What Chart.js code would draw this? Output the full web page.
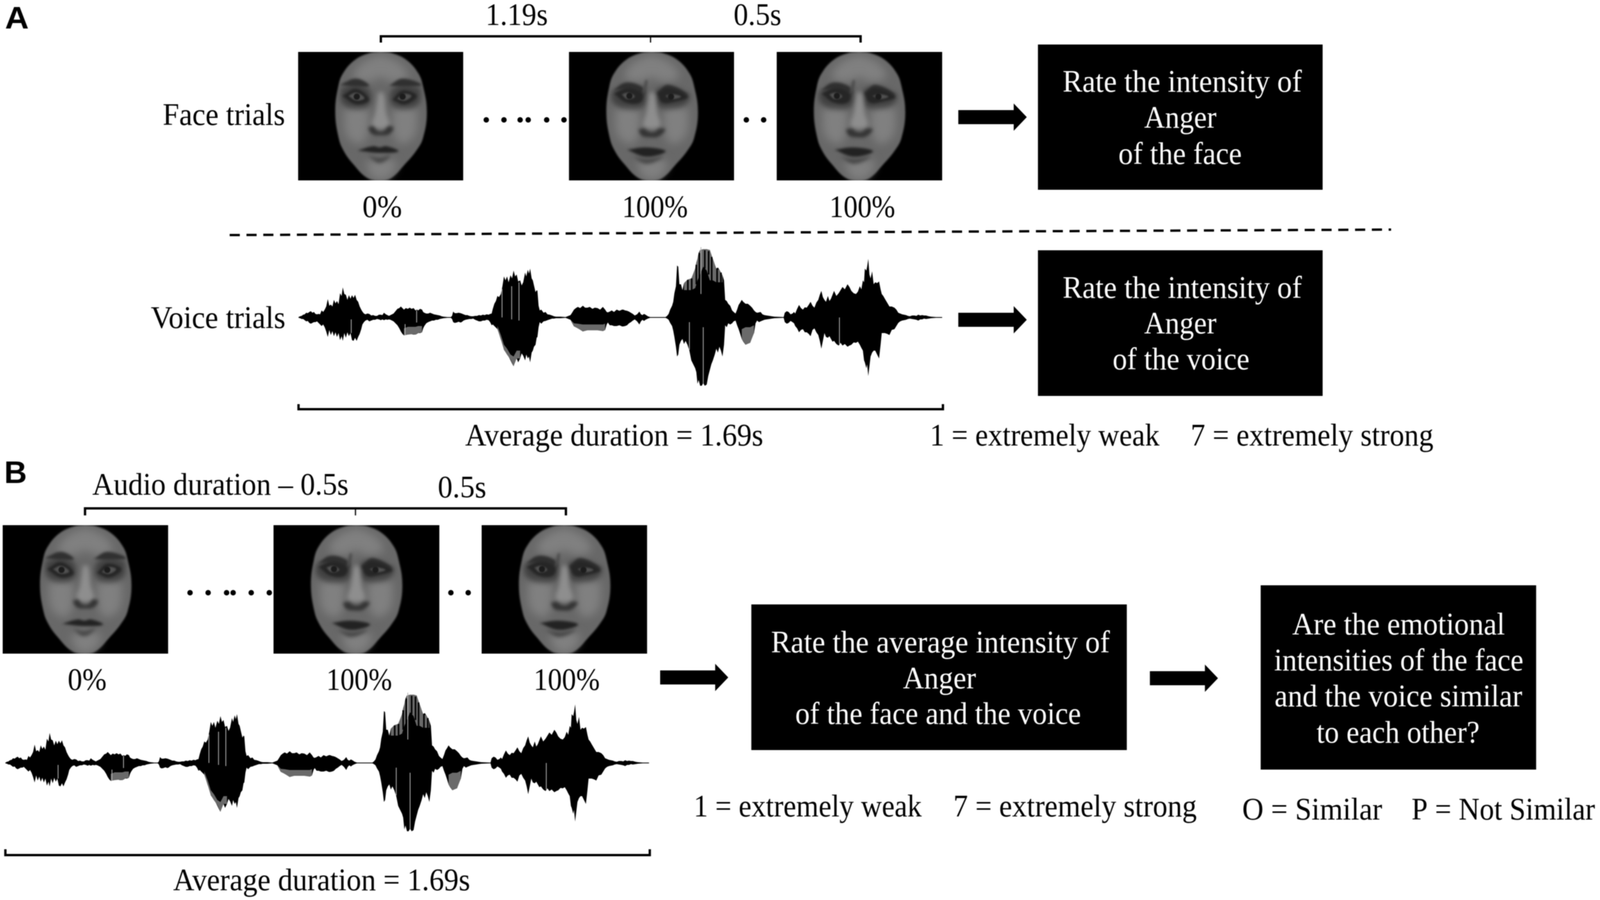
<!DOCTYPE html>
<html>
<head>
<meta charset="utf-8">
<title>Face and voice trials</title>
<script src="https://cdn.jsdelivr.net/npm/chart.js@4/dist/chart.umd.js"></script>
<style>
    html, body { margin: 0; padding: 0; background: #fff; overflow: hidden; }
    #stage { position: relative; filter: blur(1px); overflow: hidden; }
    canvas { display: block; }
    .face { position: absolute; }
</style>
</head>
<body>
<div id="stage"><canvas id="trial-chart"></canvas></div>
<script>
// Voice envelope, px from the start of the recording, amplitude above / below the baseline
const waveT = [0,4,8,12,16,20,24,28,32,36,40,44,48,52,56,60,64,68,72,76,80,84,88,92,96,100,104,108,112,115,119,123,127,131,135,139,143,147,151,155,159,163,166,170,174,179,184,189,194,199,204,209,214,218,222,227,231,235,239,243,247,252,257,262,266,270,274,279,284,289,294,299,304,308,311,316,321,324,327,332,337,342,347,352,357,362,367,372,377,387,396,399,402,406,411,416,421,
    424,429,434,439,444,449,454,459,464,469,474,479,484,489,494,498,502,505,509,513,517,521,526,530,534,538,542,546,551,555,559,563,567,571,576,580,584,589,592,596,599,602,606,609,612,616,619,621,624,627,631,637,642,647,653,659,664,669,681,694,707,711,716,721,726,732,739,745,751,757,764,770,777,784,791,797,801,804,809,814,820,827,834,841,
    844,849,854,859,864,869,874,880,886,890,894,898,902,908,914,934,954,958,962,966,971,974,977,981,984,987,990,994,998,1002,1006,1011,1016,1021,1026,1031,1034,1037,1040,1044,1048,1052,1056,1061,1065,1069,1073,1077,1082,1086,1090,1094,1098,1102,1106,1109,1113,1117,1122,1127,1131,1136,1140,1144,1148,1152,1156,1162,1168,1174,1179,1184,1188,1192,1197,1201,1206,1211,1217,1224,1230,1237,1261,
    1264,1269,1274,1279,1284,1288,1291,1296,1301,1306,1311,1316,1321,1326,1331,1336,1341,1346,1351,1355,1359,1363,1367,1371,1376,1380,1384,1388,1392,1398,1404,1409,1414,1420,1427,1432,1437,1443,1449,1454,1459,1463,1467,1470,1472,1476,1478,1481,1484,1487,1491,1495,1499,1504,1509,1513,1516,1520,1524,1530,1536,1542,1549,1554,1559,1564,1569,1574,1579,1584,1589,1595,1601,1606,1611,1616,1621,1626,1631,1638,1644,1657,1673];
const waveUp = [1,3,4,7,8,12,11,14,16,12,14,9,8,9,8,18,14,20,28,47,30,33,28,45,36,42,34,62,55,77,60,58,45,57,48,57,50,58,45,40,28,20,15,10,8,10,9,5,6,4,4,7,7,6,12,8,6,4,6,8,10,16,22,24,28,24,20,24,22,25,22,24,18,20,18,22,20,14,12,10,10,12,10,8,7,6,5,3,2,1,1,4,15,11,11,12,11,
    10,8,6,6,4,3,3,4,4,6,5,7,6,8,7,9,10,22,35,42,55,52,60,80,105,95,105,90,108,100,120,105,110,92,95,82,90,115,105,122,112,125,100,95,82,65,70,68,30,18,20,12,14,8,7,5,3,2,2,1,6,12,20,24,27,24,30,25,25,27,22,25,24,20,27,20,14,13,15,18,14,20,17,20,
    20,18,17,15,12,9,5,8,15,8,6,9,7,3,1,1,1,4,9,20,30,40,62,80,133,130,85,85,70,88,80,97,85,100,110,125,140,150,165,173,170,175,172,175,170,173,160,150,135,125,128,122,115,108,95,45,42,35,30,18,14,10,20,32,38,45,40,35,35,30,25,18,14,12,13,14,8,6,5,4,3,2,1,
    12,16,14,8,10,14,10,22,32,24,20,26,25,32,40,30,25,38,45,58,68,52,45,40,55,42,48,58,68,55,62,70,78,72,85,78,68,62,60,66,80,72,95,90,125,120,130,150,110,100,118,85,90,88,92,72,60,55,48,38,28,28,25,20,12,10,8,7,6,4,3,5,5,4,7,5,6,5,5,3,2,1,1];
const waveDown = [1,2,4,4,7,10,9,14,16,14,12,12,10,14,18,22,18,25,36,50,32,45,35,48,38,50,40,58,48,60,40,52,38,48,40,58,60,52,60,50,42,30,18,12,8,6,10,8,6,6,4,5,7,5,7,5,6,5,6,8,10,15,20,28,36,42,46,43,44,42,43,44,44,42,40,40,38,28,22,15,12,10,8,8,6,6,4,3,2,1,1,4,12,14,13,11,13,
    12,8,6,5,4,4,3,6,8,10,10,8,8,6,7,12,20,18,22,26,30,40,57,62,83,88,95,100,110,118,125,108,105,115,105,92,98,110,95,105,100,115,90,85,75,70,52,50,25,12,16,10,9,7,5,3,3,2,2,1,6,14,23,22,28,30,36,30,33,30,33,28,33,30,35,32,18,13,20,20,22,22,20,23,
    23,22,20,15,12,8,5,10,18,10,6,9,6,3,1,1,1,3,6,14,22,34,50,75,100,95,70,60,55,68,60,70,85,110,120,130,140,170,160,175,175,168,175,172,150,135,120,110,95,80,90,75,85,100,70,20,25,15,18,15,10,8,20,30,42,55,62,70,58,65,48,40,15,8,12,10,8,6,5,4,3,2,1,
    12,16,14,9,12,15,22,28,38,32,30,38,38,42,48,32,28,38,45,60,80,60,40,50,52,48,55,62,60,68,72,65,72,68,75,72,70,64,65,62,70,78,85,110,115,130,120,150,125,100,90,85,85,95,105,70,40,40,40,42,45,32,30,22,14,10,8,7,6,4,3,4,5,6,8,5,5,3,4,3,2,1,1];

// Paler parts of the envelope: sign +1 above the baseline, -1 below
const paleSides = [-1, -1, -1, 1, -1];
const paleT = [[274,284,294,304,311,321], [517,526,534,542,551,559,567,576], [707,716,726,739,751,764,777,791,797], [1002,1011,1021,1031,1037,1044,1052,1061,1069,1077,1086,1094,1102], [1152,1162,1174,1184]];
const paleOuter = [[46,44,43,44,40,38], [30,57,83,95,108,125,105,105], [6,23,28,36,33,33,33,35,32], [88,97,100,125,150,173,175,175,173,150,125,122,108], [55,70,65,40]];
const paleInner = [[28,24,24,24,22,22], [22,45,70,80,95,100,85,85], [6,15,16,18,18,18,18,18,16], [70,70,70,75,95,110,130,120,95,95,90,90,90], [30,25,25,20]];

// Black stripes running through the pale top of the big burst
const stripeT = [1012,1022,1034,1042,1056,1066,1074,1088,1098];
const stripeTop = [96,100,135,165,172,170,155,126,115];
const stripeBottom = [66,66,85,100,125,110,90,85,85];

// Thin light gaps in the waveform: time, top, bottom (positive is above the baseline)
const gapT = [137, 277, 307, 529, 554, 573, 1016, 1046, 1052, 1406];
const gapTop = [-5, -17, 18, 73, 80, 90, -12, 180, -25, 0];
const gapBottom = [-40, -45, -13, 0, -5, -8, -83, 60, -170, -68];

// Text
const labels = ['A','B','1.19s','0.5s','Face trials','0%','100%','100%',
    'Rate the intensity of','Anger','of the face','Voice trials',
    'Rate the intensity of','Anger','of the voice','Average duration = 1.69s','1 = extremely weak','7 = extremely strong',
    'Audio duration \u2013 0.5s','0.5s','0%','100%','100%',
    'Rate the average intensity of','Anger','of the face and the voice',
    'Are the emotional','intensities of the face','and the voice similar','to each other?',
    '1 = extremely weak','7 = extremely strong','O = Similar','P = Not Similar','Average duration = 1.69s'];
const labelLeft = [13,11,1262,1907,423,942,1617,2156,
    2762,2974,2907,392,
    2762,2974,2892,1209,2417,3095,
    240,1138,176,848,1387,
    2004,2347,2067,
    3359,3312,3313,3422,
    1803,2478,3229,3669,450];
const labelRight = [75,70,1424,2031,741,1045,1788,2327,
    3384,3162,3228,742,
    3384,3162,3248,1984,3014,3726,
    906,1264,277,1019,1559,
    2885,2537,2810,
    3912,3960,3957,3846,
    2396,3111,3593,4146,1222];
const labelBase = [73,1237,64,64,320,556,556,556,
    235,327,420,840,
    763,854,946,1141,1141,1141,
    1267,1274,1767,1767,1767,
    1671,1763,1854,
    1625,1717,1809,1902,
    2091,2091,2099,2099,2280];
const whiteLabels = [8,9,10,12,13,14,23,24,25,26,27,28,29];

// Layout
const facePanelsX = [[775,1204],[1479,1908],[2019,2449],[7,437],[711,1142],[1252,1682]];
const facePanelsY = [[133,462],[133,462],[133,462],[1345,1674],[1345,1674],[1345,1674]];
const facePanelAngry = [false,true,true,false,true,true];
const boxesX = [[2698,3438],[2698,3438],[1953,2929],[3277,3993]];
const boxesY = [[114,486],[641,1014],[1548,1921],[1499,1971]];
const arrowLeft = [2491,2491,1716,2989];
const arrowTip = [2669,2669,1893,3166];
const arrowMid = [300,819,1735,1737];
const dotsX = [1264,1310,1352,1373,1421,1466,1940,1985,494,541,589,606,653,700,1172,1217];
const dotsY = [307,307,307,307,307,307,307,307,1518,1518,1518,1518,1518,1518,1518,1518];
const bracketLeft = [990,776,221,14];
const bracketRight = [2237,2451,1471,1689];
const bracketLine = [93,1048,1302,2190];
const bracketTick = [109,1035,1320,2175];
const bracketMid = [1691,null,924,null];
const waveStart = [776,14];
const waveBase = [813,1954];
const dividerX = [597,3616];
const dividerY = [602,588];

// Face drawing, offsets from the panel centre
const faceOutline = [[0,-165],[-30,-161],[-67,-144],[-97,-111],[-110,-77],[-118,-11],[-109,56],[-96,89],[-72,122],[-35,158],[0,165],[28,158],[64,122],[92,89],[110,56],[120,-11],[110,-77],[97,-111],[67,-144],[30,-161],[0,-165]];
const foreheadGlow = [[0,-158],[-50,-135],[-70,-100],[-30,-88],[0,-100],[30,-88],[70,-100],[50,-135],[0,-158]];
const noseGlow = [[-6,-60],[-14,-10],[-22,25],[0,32],[22,25],[14,-10],[6,-60],[-6,-60]];
const cheekGlowL = [[-95,-20],[-40,-22],[-32,30],[-50,70],[-88,50],[-95,-20]];
const cheekGlowR = [[95,-20],[40,-22],[32,30],[50,70],[88,50],[95,-20]];
const chinGlow = [[-40,118],[0,110],[40,118],[18,158],[-18,158],[-40,118]];

const calmSockets = [[[-104,-72],[-62,-82],[-28,-66],[-30,-28],[-68,-18],[-100,-34],[-104,-72]], [[104,-72],[62,-82],[28,-66],[30,-28],[68,-18],[100,-34],[104,-72]]];
const calmBrows = [[[-106,-80],[-63,-96],[-30,-78],[-63,-76],[-106,-80]], [[22,-78],[57,-96],[106,-80],[57,-76],[22,-78]]];
const calmEyes = [[[-100,-52],[-63,-70],[-30,-42],[-63,-30],[-100,-52]], [[30,-42],[57,-66],[94,-52],[63,-30],[30,-42]]];
const calmWhites = [[[-84,-52],[-63,-60],[-42,-46],[-63,-40],[-84,-52]], [[42,-44],[60,-57],[80,-52],[63,-40],[42,-44]]];
const calmIrisX = [-62,57];
const calmIrisY = [-50,-50];
const calmNose = [[[-33,30],[-20,26],[-8,38],[8,38],[20,26],[33,30],[22,46],[0,49],[-22,46],[-33,30]]];
const calmMouth = [[[-60,88],[-20,77],[-3,80],[15,77],[46,90],[-3,94],[-60,88]]];
const calmLip = [[[-34,100],[-3,106],[26,100],[-3,120],[-34,100]]];

const angrySockets = [[[-106,-62],[-62,-78],[-18,-66],[-20,-26],[-66,-18],[-100,-34],[-106,-62]], [[100,-56],[46,-76],[12,-66],[16,-26],[60,-20],[92,-34],[100,-56]]];
const angryBrows = [[[-100,-66],[-67,-86],[-24,-74],[-20,-56],[-65,-68],[-100,-66]], [[14,-60],[43,-80],[94,-54],[45,-64],[14,-60]]];
const angryEyes = [[[-98,-58],[-63,-72],[-24,-57],[-30,-35],[-67,-35],[-98,-58]], [[14,-60],[43,-72],[94,-50],[60,-37],[27,-35],[14,-60]]];
const angryWhites = [[[-78,-56],[-60,-60],[-44,-50],[-64,-44],[-78,-56]], [[34,-52],[54,-56],[76,-50],[54,-44],[34,-52]]];
const angryIrisX = [-58,50];
const angryIrisY = [-52,-50];
const angryNose = [[[-35,34],[-20,32],[-7,40],[8,40],[20,32],[35,34],[18,52],[-7,54],[-26,50],[-35,34]]];
const angryMouth = [[[-64,86],[-13,80],[36,90],[-13,104],[-64,86]]];
const angryLip = [[[-50,103],[-13,108],[30,103],[-13,122],[-50,103]]];
const frownLines = [[[-17,-92],[-11,-92],[-17,-60],[-24,-60],[-17,-92]]];

function shape(points, color, blurPx, tension) {
    return {
        data: points.map(p => ({ x: p[0], y: p[1] })),
        showLine: true,
        fill: 'shape',
        backgroundColor: color,
        borderColor: color,
        borderWidth: 0,
        pointRadius: 0,
        tension: tension || 0,
        softEdge: blurPx || 0
    };
}

function polyline(points, color, width, dash) {
    return {
        data: points.map(p => ({ x: p[0], y: p[1] })),
        showLine: true,
        fill: false,
        borderColor: color,
        borderWidth: width,
        borderDash: dash || [],
        borderCapStyle: 'butt',
        pointRadius: 0,
        tension: 0
    };
}

function faceDatasets(angry) {
    const sets = angry
        ? { sockets: angrySockets, brows: angryBrows, eyes: angryEyes, whites: angryWhites, irisX: angryIrisX, irisY: angryIrisY, nose: angryNose, mouth: angryMouth, lip: angryLip }
        : { sockets: calmSockets, brows: calmBrows, eyes: calmEyes, whites: calmWhites, irisX: calmIrisX, irisY: calmIrisY, nose: calmNose, mouth: calmMouth, lip: calmLip };
    const list = [];
    const soft = (pts, color, b) => list.push(shape(pts, color, b, 0.4));

    soft(faceOutline, '#686868', 2);
    [foreheadGlow, cheekGlowL, cheekGlowR, chinGlow].forEach(p => soft(p, '#808080', 11));
    sets.sockets.forEach(p => soft(p, 'rgba(35,35,35,0.55)', 7));
    soft(noseGlow, '#8e8e8e', 6);
    sets.brows.forEach(p => soft(p, '#303030', 3));
    sets.eyes.forEach(p => soft(p, '#262626', 3));
    sets.whites.forEach(p => soft(p, '#525252', 2));
    list.push({
        data: sets.irisX.map((x, i) => ({ x: x, y: sets.irisY[i] })),
        showLine: false,
        pointRadius: 8,
        pointBackgroundColor: '#1c1c1c',
        pointBorderWidth: 0,
        softEdge: 1
    });
    sets.nose.forEach(p => soft(p, '#343434', 4));
    sets.lip.forEach(p => soft(p, '#484848', 5));
    sets.mouth.forEach(p => soft(p, '#222222', 3));
    if (angry) frownLines.forEach(p => soft(p, '#4c4c4c', 3));
    return list.reverse();
}

function addWave(list, x0, base) {
    const outline = waveT.map((t, i) => [x0 + t, base - waveUp[i]])
        .concat(waveT.map((t, i) => [x0 + t, base + waveDown[i]]).reverse());
    list.push(shape(outline, '#000', 0, 0));
    paleT.forEach((ts, k) => {
        const s = paleSides[k];
        const pts = ts.map((t, i) => [x0 + t, base - s * paleOuter[k][i]])
            .concat(ts.map((t, i) => [x0 + t, base - s * paleInner[k][i]]).reverse());
        list.push(shape(pts, '#6a6a6a', 0, 0));
    });
    stripeT.forEach((t, i) => {
        list.push(polyline([[x0 + t, base - stripeTop[i]], [x0 + t, base - stripeBottom[i]]], '#000', 4));
    });
    gapT.forEach((t, i) => {
        list.push(polyline([[x0 + t, base - gapTop[i]], [x0 + t, base - gapBottom[i]]], '#b5b5b5', 2));
    });
}

function buildDatasets() {
    const list = [];

    facePanelsX.forEach((xs, i) => {
        const ys = facePanelsY[i];
        list.push(shape([[xs[0], ys[0]], [xs[1], ys[0]], [xs[1], ys[1]], [xs[0], ys[1]], [xs[0], ys[0]]], '#000'));
    });

    boxesX.forEach((xs, i) => {
        const ys = boxesY[i];
        list.push(shape([[xs[0], ys[0]], [xs[1], ys[0]], [xs[1], ys[1]], [xs[0], ys[1]], [xs[0], ys[0]]], '#000'));
    });

    arrowLeft.forEach((x, i) => {
        const tip = arrowTip[i], m = arrowMid[i], neck = tip - 34;
        list.push(shape([[x, m - 18], [neck, m - 18], [neck, m - 35], [tip, m], [neck, m + 35], [neck, m + 18], [x, m + 18], [x, m - 18]], '#000'));
    });

    bracketLeft.forEach((x, i) => {
        const r = bracketRight[i], y = bracketLine[i], t = bracketTick[i];
        list.push(polyline([[x, t], [x, y], [r, y], [r, t]], '#000', 6));
        if (bracketMid[i] !== null) list.push(polyline([[bracketMid[i], y], [bracketMid[i], t]], '#000', 3));
    });

    list.push(polyline([[dividerX[0], dividerY[0]], [dividerX[1], dividerY[1]]], '#000', 6, [26, 17]));

    list.push({
        data: dotsX.map((x, i) => ({ x: x, y: dotsY[i] })),
        showLine: false,
        pointRadius: 7,
        pointBackgroundColor: '#000',
        pointBorderWidth: 0
    });

    waveStart.forEach((x, i) => addWave(list, x, waveBase[i]));

    // Chart.js paints the first dataset last
    return list.reverse();
}

// Runs before the filler, so the fill gets the blur as well. Only the small face charts use it.
const softEdges = {
    id: 'softEdges',
    beforeDatasetDraw(chart, args) {
        const px = chart.data.datasets[args.index].softEdge;
        if (px) chart.ctx.filter = 'blur(' + px + 'px)';
    },
    afterDatasetDraw(chart) {
        chart.ctx.filter = 'none';
    }
};

const textLayer = {
    id: 'textLayer',
    afterDatasetsDraw(chart) {
        const { ctx, scales: { x, y } } = chart;
        labels.forEach((text, i) => {
            const left = x.getPixelForValue(labelLeft[i]);
            const right = x.getPixelForValue(labelRight[i]);
            ctx.save();
            ctx.font = i < 2 ? 'bold 80px "Liberation Sans"' : '80px "Liberation Serif"';
            ctx.fillStyle = whiteLabels.includes(i) ? '#fff' : '#000';
            ctx.textAlign = 'left';
            ctx.textBaseline = 'alphabetic';
            ctx.translate(left, y.getPixelForValue(labelBase[i]));
            ctx.scale((right - left) / ctx.measureText(text).width, 1);
            ctx.fillText(text, 0, 0);
            ctx.restore();
        });
    }
};

const filler = Chart.registry.plugins.get('filler');
Chart.unregister(filler);
Chart.register(softEdges, filler);

function baseOptions(xMin, xMax, yMin, yMax) {
    return {
        responsive: false,
        animation: false,
        devicePixelRatio: 1,
        layout: { padding: 0, autoPadding: false },
        events: [],
        plugins: {
            legend: { display: false },
            tooltip: { enabled: false },
            title: { display: false }
        },
        scales: {
            x: { type: 'linear', min: xMin, max: xMax, display: false },
            y: { type: 'linear', min: yMin, max: yMax, reverse: true, display: false }
        }
    };
}

// The window can come out narrower than asked for, so the drawing fills whatever it gets
const pageW = window.innerWidth;
const pageH = window.innerHeight;
const kx = pageW / 4159;
const ky = pageH / 2305;
const stage = document.getElementById('stage');
stage.style.width = pageW + 'px';
stage.style.height = pageH + 'px';
const mainCanvas = document.getElementById('trial-chart');
mainCanvas.width = pageW;
mainCanvas.height = pageH;
mainCanvas.style.width = pageW + 'px';
mainCanvas.style.height = pageH + 'px';

new Chart(mainCanvas.getContext('2d'), {
    type: 'scatter',
    data: { datasets: buildDatasets() },
    options: baseOptions(0, 4159, 0, 2305),
    plugins: [textLayer]
});

// One small chart per face, laid over its black panel
facePanelsX.forEach((xs, i) => {
    const ys = facePanelsY[i];
    const w = xs[1] - xs[0], h = ys[1] - ys[0];
    const c = document.createElement('canvas');
    c.className = 'face';
    c.width = Math.round(w * kx);
    c.height = Math.round(h * ky);
    c.style.cssText = 'left:' + Math.round(xs[0] * kx) + 'px;top:' + Math.round(ys[0] * ky) + 'px;width:' + c.width + 'px;height:' + c.height + 'px';
    stage.appendChild(c);
    new Chart(c.getContext('2d'), {
        type: 'scatter',
        data: { datasets: faceDatasets(facePanelAngry[i]) },
        options: baseOptions(-w / 2, w / 2, -h / 2, h / 2)
    });
});
</script>
</body>
</html>
